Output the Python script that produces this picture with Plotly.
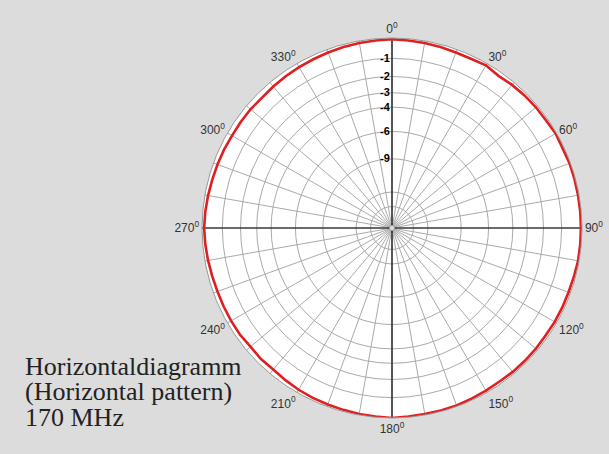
import plotly.graph_objects as go
import numpy as np

# Measured pattern (relative level in dB) every 5 degrees
angles_deg = list(range(0, 360, 5))
level_db = [-0.05, -0.08, -0.1, -0.12, -0.15, -0.15, -0.1, -0.2, -0.15, -0.12, -0.1, -0.1,
            -0.05, -0.08, -0.05, -0.05, -0.05, -0.05, -0.05, -0.05, -0.05, -0.08, -0.1, -0.1,
            -0.1, -0.12, -0.1, -0.1, -0.1, -0.12, -0.1, -0.08, -0.05, -0.05, -0.05, -0.03,
            0.0, -0.03, -0.05, -0.08, -0.1, -0.12, -0.15, -0.2, -0.25, -0.22, -0.25, -0.2,
            -0.2, -0.2, -0.2, -0.18, -0.15, -0.12, -0.1, -0.12, -0.15, -0.18, -0.2, -0.22,
            -0.25, -0.25, -0.25, -0.28, -0.25, -0.22, -0.2, -0.18, -0.15, -0.12, -0.1, -0.08]

ring_db = [-1, -2, -3, -4, -6, -9, -15, -20]
ring_labels = ["-1", "-2", "-3", "-4", "-6", "-9", "", ""]

angle_ticks = list(range(0, 360, 10))
angle_labels = [f"{a}<sup>0</sup>" if a % 30 == 0 else "" for a in angle_ticks]

title_lines = ["Horizontaldiagramm", "(Horizontal pattern)", "170 MHz"]

W, H = 609, 454
BG = "#dcdcdc"

def to_lin(db):
    return 10 ** (np.asarray(db, dtype=float) / 20.0)

theta_closed = angles_deg + [angles_deg[0]]
r_closed = list(to_lin(level_db)) + [float(to_lin(level_db[0]))]

fig = go.Figure()

# main axes (cross through the centre)
fig.add_trace(go.Scatterpolar(r=[1, 1], theta=[0, 180], mode="lines",
                              line=dict(color="black", width=1.2), hoverinfo="skip", showlegend=False))
fig.add_trace(go.Scatterpolar(r=[1, 1], theta=[90, 270], mode="lines",
                              line=dict(color="black", width=1.2), hoverinfo="skip", showlegend=False))

fig.add_trace(go.Scatterpolar(r=r_closed, theta=theta_closed, mode="lines",
                              line=dict(color="#e02020", width=2.6), showlegend=False))

cx0, cx1 = 202 / W, 582 / W
cy1, cy0 = 1 - 38 / H, 1 - 418 / H

fig.update_layout(
    width=W, height=H,
    paper_bgcolor=BG, plot_bgcolor=BG,
    margin=dict(l=0, r=0, t=0, b=0),
    font=dict(family="Liberation Sans, Arial, sans-serif", color="#333333", size=12),
    polar=dict(
        domain=dict(x=[cx0, cx1], y=[cy0, cy1]),
        bgcolor="white",
        hole=0.014,
        angularaxis=dict(
            rotation=90, direction="clockwise",
            tickmode="array", tickvals=angle_ticks, ticktext=angle_labels,
            ticks="", showline=True, linecolor="#999999", linewidth=1,
            showgrid=True, gridcolor="#aaaaaa", gridwidth=0.8,
            tickfont=dict(size=12, color="#333333"),
        ),
        radialaxis=dict(
            range=[0, 1], angle=90, tickangle=90,
            tickmode="array", tickvals=list(to_lin(ring_db)), ticktext=ring_labels,
            ticks="", showline=False, showgrid=True, gridcolor="#aaaaaa", gridwidth=0.8,
            side="counterclockwise",
            tickfont=dict(size=11, color="black", weight="bold"),
        ),
    ),
)

ys = [383, 408, 434]
for txt, yb in zip(title_lines, ys):
    fig.add_annotation(text=txt, xref="paper", yref="paper", x=23 / W, y=1 - yb / H,
                       xanchor="left", yanchor="bottom", showarrow=False,
                       font=dict(family="Liberation Serif, Times New Roman, serif", size=26, color="#222222"))

fig.write_html("out.html", config={"displayModeBar": False},
               post_script="document.body.style.margin='0px';")
